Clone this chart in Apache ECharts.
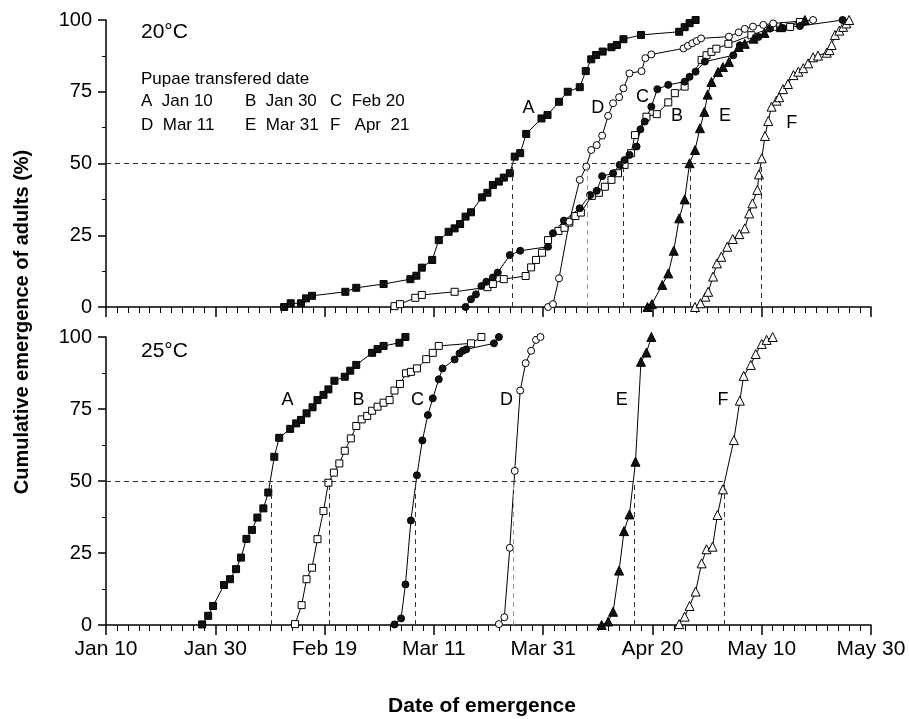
<!DOCTYPE html>
<html>
<head>
<meta charset="utf-8">
<title>Cumulative emergence of adults</title>
<script src="https://cdn.jsdelivr.net/npm/echarts/dist/echarts.min.js"></script>
<style>
  html, body { margin: 0; padding: 0; background: #fff; }
  #chart { width: 909px; height: 719px; }
</style>
</head>
<body>
<div id="chart"></div>
<script>
// x = days after Jan 10, y = cumulative emergence (%)
var dateLabels = ['Jan 10', 'Jan 30', 'Feb 19', 'Mar 11', 'Mar 31', 'Apr 20', 'May 10', 'May 30']

// 20°C
var a20 = [[32.6, 0], [33.8, 1.3], [35.7, 1.3], [36.6, 3.0], [37.7, 3.9], [43.8, 5.3], [45.8, 6.7], [50.8, 8.0], [55.7, 9.7], [56.8, 10.9], [57.8, 13.7], [59.7, 16.4], [60.9, 23.3], [62.7, 26.2], [63.8, 27.4], [64.8, 28.9], [65.8, 31.5], [66.8, 33.0], [68.8, 38.2], [69.8, 39.8], [70.8, 42.5], [71.9, 43.7], [72.8, 45.1], [73.9, 46.6], [74.8, 52.4], [75.8, 53.6], [76.9, 60.3], [79.7, 65.7], [80.8, 66.9], [82.9, 71.5], [84.5, 75.0], [86.7, 76.6], [87.8, 82.2], [88.8, 86.3], [89.7, 87.8], [90.9, 89.0], [92.5, 90.5], [93.5, 91.3], [94.7, 93.3], [97.9, 94.8], [104.9, 95.9], [105.9, 97.5], [106.8, 98.9], [107.9, 100]]
var b20 = [[52.8, 0.3], [53.8, 1.0], [56.6, 3.2], [57.8, 4.2], [63.8, 5.3], [69.8, 6.9], [70.8, 8.0], [72.8, 9.7], [76.8, 10.8], [77.8, 13.8], [78.7, 16.4], [79.8, 18.9], [80.9, 23.3], [82.8, 26.5], [83.9, 27.6], [84.8, 29.4], [85.9, 31.7], [86.9, 32.9], [88.9, 38.7], [90.2, 39.8], [91.3, 41.9], [92.5, 44.3], [93.7, 46.6], [94.9, 49.5], [96.1, 53.6], [96.8, 59.9], [98.9, 66.3], [100.8, 67.2], [102.9, 71.3], [104.1, 74.5], [105.9, 76.8], [109.0, 86.1], [109.9, 87.7], [110.8, 88.9], [111.7, 90.0], [113.9, 91.7], [118.1, 94.7], [122.1, 97.6], [125.2, 97.6], [127.0, 99.3]]
var c20 = [[65.8, 0], [66.8, 2.7], [67.7, 4.4], [68.7, 7.3], [69.6, 8.8], [70.8, 10.3], [71.7, 12.0], [73.9, 18.1], [75.8, 19.6], [80.9, 21.0], [81.8, 25.7], [83.8, 30.1], [86.7, 34.4], [88.6, 39.0], [89.8, 40.5], [90.8, 45.6], [92.8, 46.6], [94.0, 49.5], [94.9, 51.2], [95.8, 53.0], [97.1, 55.9], [97.8, 61.9], [98.6, 64.6], [99.8, 69.8], [100.9, 75.9], [102.9, 77.4], [105.9, 78.5], [106.8, 80.2], [107.9, 82.0], [109.6, 85.5], [114.8, 87.7], [116.0, 91.2], [119.4, 94.1], [121.5, 97.0], [123.9, 97.2], [127.0, 97.9], [134.8, 100]]
var d20 = [[80.9, 0], [81.8, 1.0], [82.9, 10.0], [84.8, 29.7], [86.7, 44.3], [87.9, 48.9], [88.8, 54.7], [89.8, 56.4], [90.8, 59.7], [91.9, 66.6], [92.8, 71.0], [93.9, 73.1], [94.7, 76.2], [95.8, 81.4], [98.0, 82.2], [98.7, 86.7], [99.8, 88.0], [105.7, 90.1], [106.5, 91.0], [107.3, 91.9], [108.1, 92.7], [108.9, 93.6], [114.0, 94.2], [115.8, 95.7], [116.9, 96.9], [118.4, 97.7], [120.3, 98.3], [122.1, 98.8], [129.4, 100]]
var e20 = [[99.1, 0], [99.9, 1.0], [101.8, 7.7], [102.9, 11.7], [103.9, 19.6], [104.9, 30.9], [105.9, 37.5], [106.8, 50.1], [107.8, 54.7], [108.7, 62.3], [109.5, 68.0], [110.1, 74.0], [110.8, 78.4], [112.0, 81.9], [112.9, 83.6], [114.0, 85.4], [115.8, 90.6], [116.9, 91.7], [118.5, 93.5], [120.5, 95.5], [123.5, 97.5], [127.9, 100]]
var f20 = [[107.8, 0], [108.8, 1.3], [109.7, 3.6], [110.2, 5.3], [111.1, 10.6], [111.8, 15.2], [112.6, 17.5], [113.7, 21.0], [114.7, 23.7], [115.9, 25.4], [116.9, 27.4], [117.7, 32.6], [118.3, 36.1], [119.2, 40.8], [119.5, 46.2], [120.0, 51.8], [120.6, 59.6], [121.2, 64.8], [121.8, 69.8], [122.7, 71.9], [123.2, 73.1], [123.9, 75.9], [124.8, 77.7], [125.8, 80.8], [126.7, 82.0], [127.6, 83.2], [128.5, 84.9], [129.4, 87.0], [130.3, 87.6], [131.9, 88.6], [132.4, 89.5], [132.8, 91.3], [133.4, 94.8], [134.2, 96.3], [134.9, 97.6], [135.5, 98.8], [136.0, 100]]
// day at which 50% emerged (A, D, B/C, E, F)
var half20 = [74.4, 88.0, 94.6, 106.9, 120.0]

// 25°C
var a25 = [[17.6, 0.2], [18.7, 3.2], [19.6, 6.6], [21.6, 13.9], [22.7, 15.9], [23.8, 19.4], [24.7, 23.4], [25.7, 29.9], [26.7, 33.0], [27.7, 37.3], [28.8, 40.5], [29.7, 46.0], [30.8, 58.4], [31.7, 65.0], [33.7, 68.1], [34.8, 70.0], [35.7, 71.2], [36.7, 73.5], [37.8, 75.6], [38.7, 78.1], [39.8, 79.9], [40.7, 81.8], [41.8, 84.8], [43.7, 86.2], [44.7, 88.3], [45.8, 90.3], [48.7, 94.5], [49.7, 95.8], [50.8, 96.9], [53.7, 98.0], [54.8, 100]]
var b25 = [[34.6, 0.3], [35.8, 6.9], [36.7, 15.9], [37.7, 19.9], [38.7, 29.8], [39.8, 39.6], [40.7, 49.4], [41.7, 52.9], [42.7, 56.1], [43.7, 60.5], [44.8, 64.8], [45.8, 69.1], [46.8, 71.4], [47.8, 72.6], [48.7, 74.4], [49.7, 75.8], [50.8, 77.2], [51.9, 78.1], [52.8, 81.4], [53.8, 83.7], [54.9, 87.4], [55.8, 87.9], [56.9, 89.1], [58.6, 92.3], [59.8, 94.5], [60.9, 96.9], [66.8, 97.8], [68.7, 100]]
var c25 = [[52.8, 0.2], [54.0, 2.3], [54.8, 14.1], [55.8, 36.3], [56.9, 52.0], [57.9, 64.1], [58.9, 72.9], [59.8, 78.7], [60.9, 85.3], [61.6, 89.1], [63.8, 92.2], [64.7, 94.3], [65.3, 95.2], [65.9, 95.7], [71.0, 97.8], [71.9, 100]]
var d25 = [[71.9, 0.3], [72.9, 2.7], [73.9, 26.8], [74.8, 53.5], [75.8, 81.4], [76.8, 90.9], [77.8, 95.2], [78.7, 99.0], [79.5, 100]]
var e25 = [[90.7, 0], [91.9, 1.2], [92.8, 4.6], [93.9, 18.9], [94.8, 32.6], [95.8, 38.4], [96.9, 56.7], [97.9, 91.4], [98.9, 94.6], [99.8, 100]]
var f25 = [[104.9, 0.3], [105.9, 2.9], [106.8, 6.6], [107.9, 11.6], [109.0, 21.4], [109.9, 26.3], [111.0, 27.2], [111.9, 38.2], [112.9, 47.1], [114.9, 64.2], [116.0, 77.9], [116.7, 86.5], [118.0, 90.3], [118.9, 94.1], [120.0, 97.6], [120.9, 99.0], [122.0, 100]]
var half25 = [30.2, 40.9, 56.6, 74.6, 96.6, 113.2]

var font = 'Arial, "Liberation Sans", sans-serif'

// marker styles for A..F
var marks = [
  { symbol: 'rect', size: 7, fill: '#111' },
  { symbol: 'rect', size: 7, fill: '#fff' },
  { symbol: 'circle', size: 7, fill: '#111' },
  { symbol: 'circle', size: 7, fill: '#fff' },
  { symbol: 'triangle', size: 9, fill: '#111' },
  { symbol: 'triangle', size: 9, fill: '#fff' }
]

function curve(data, k, idx) {
  return {
    type: 'line',
    xAxisIndex: idx,
    yAxisIndex: idx,
    data: data,
    symbol: marks[k].symbol,
    symbolSize: marks[k].size,
    showSymbol: true,
    lineStyle: { color: '#000', width: 1 },
    itemStyle: { color: marks[k].fill, borderColor: '#000', borderWidth: 1 },
    z: 3
  }
}

// dashed 50% guide lines, grayed ones for the D curves
function guides(half, idx, grayAt) {
  var last = Math.max.apply(null, half)
  var lines = [[{ coord: [0, 50] }, { coord: [last, 50] }]]
  half.forEach(function(t, i) {
    var c = i === grayAt ? '#999' : '#333'
    lines.push([{ coord: [t, 0], lineStyle: { color: c } }, { coord: [t, 50] }])
  })
  return {
    type: 'line',
    xAxisIndex: idx,
    yAxisIndex: idx,
    data: [],
    markLine: {
      silent: true,
      animation: false,
      symbol: ['none', 'none'],
      label: { show: false },
      lineStyle: { type: [5, 4], color: '#333', width: 1 },
      data: lines
    },
    z: 1
  }
}

function letters(items, idx) {
  return {
    type: 'scatter',
    xAxisIndex: idx,
    yAxisIndex: idx,
    symbolSize: 1,
    itemStyle: { color: '#fff', opacity: 1 },
    label: {
      show: true,
      position: 'inside',
      formatter: '{b}',
      color: '#000',
      opacity: 1,
      textBorderWidth: 0,
      fontSize: 18,
      fontFamily: font
    },
    data: items,
    z: 2
  }
}

function xAxis(idx, labels) {
  return {
    type: 'value',
    gridIndex: idx,
    min: 0,
    max: 140,
    interval: 20,
    axisLine: { onZero: false, lineStyle: { color: '#000', width: 1.5 } },
    axisTick: { length: 10, lineStyle: { color: '#000', width: 1.5 } },
    minorTick: { show: true, splitNumber: 10, length: 6, lineStyle: { color: '#000', width: 1 } },
    splitLine: { show: false },
    axisLabel: {
      show: labels,
      margin: 14,
      fontSize: 21,
      fontFamily: font,
      color: '#000',
      formatter: function(v) { return dateLabels[v / 20] }
    }
  }
}

function yAxis(idx) {
  return {
    type: 'value',
    gridIndex: idx,
    min: 0,
    max: 100,
    interval: 25,
    axisLine: { show: true, lineStyle: { color: '#000', width: 1.5 } },
    axisTick: { show: true, length: 8, lineStyle: { color: '#000', width: 1.5 } },
    minorTick: { show: true, splitNumber: 2, length: 4, lineStyle: { color: '#000', width: 1 } },
    splitLine: { show: false },
    axisLabel: { margin: 14, fontSize: 20, fontFamily: font, color: '#000' }
  }
}

function text(x, y, str, size, extra) {
  var o = { type: 'text', x: x, y: y, style: { text: str, fontSize: size, fontFamily: font, fill: '#000', verticalAlign: 'middle' } }
  for (var k in extra) o.style[k] = extra[k]
  return o
}

var chart = echarts.init(document.getElementById('chart'), null, { renderer: 'canvas' })

chart.setOption({
  animation: false,
  backgroundColor: '#fff',
  grid: [
    { left: 106, top: 20, width: 765, height: 287 },
    { left: 106, top: 337, width: 765, height: 288 }
  ],
  xAxis: [xAxis(0, false), xAxis(1, true)],
  yAxis: [yAxis(0), yAxis(1)],
  graphic: [
    text(141, 32, '20°C', 21),
    text(141, 79, 'Pupae transfered date', 17),
    text(141, 101, 'A  Jan 10', 17),
    text(245, 101, 'B  Jan 30', 17),
    text(330, 101, 'C  Feb 20', 17),
    text(141, 125, 'D  Mar 11', 17),
    text(245, 125, 'E  Mar 31', 17),
    text(330, 125, 'F   Apr  21', 17),
    text(141, 351, '25°C', 21),
    text(482, 706, 'Date of emergence', 21, { fontWeight: 'bold', align: 'center' }),
    {
      type: 'text',
      x: 22,
      y: 322,
      rotation: Math.PI / 2,
      style: {
        text: 'Cumulative emergence of adults (%)',
        fontSize: 20,
        fontWeight: 'bold',
        fontFamily: font,
        fill: '#000',
        align: 'center',
        verticalAlign: 'middle'
      }
    }
  ],
  series: [
    guides(half20, 0, 1),
    curve(a20, 0, 0),
    curve(b20, 1, 0),
    curve(c20, 2, 0),
    curve(d20, 3, 0),
    curve(e20, 4, 0),
    curve(f20, 5, 0),
    letters([
      { name: 'A', value: [77.3, 69.3] },
      { name: 'D', value: [90.0, 69.3] },
      { name: 'C', value: [98.2, 73.2] },
      { name: 'B', value: [104.5, 66.6] },
      { name: 'E', value: [113.3, 66.6] },
      { name: 'F', value: [125.5, 64.1] }
    ], 0),
    guides(half25, 1, 3),
    curve(a25, 0, 1),
    curve(b25, 1, 1),
    curve(c25, 2, 1),
    curve(d25, 3, 1),
    curve(e25, 4, 1),
    curve(f25, 5, 1),
    letters([
      { name: 'A', value: [33.2, 78.1] },
      { name: 'B', value: [46.2, 78.1] },
      { name: 'C', value: [57.0, 78.1] },
      { name: 'D', value: [73.3, 78.1] },
      { name: 'E', value: [94.4, 78.1] },
      { name: 'F', value: [112.9, 78.1] }
    ], 1)
  ]
})
</script>
</body>
</html>
